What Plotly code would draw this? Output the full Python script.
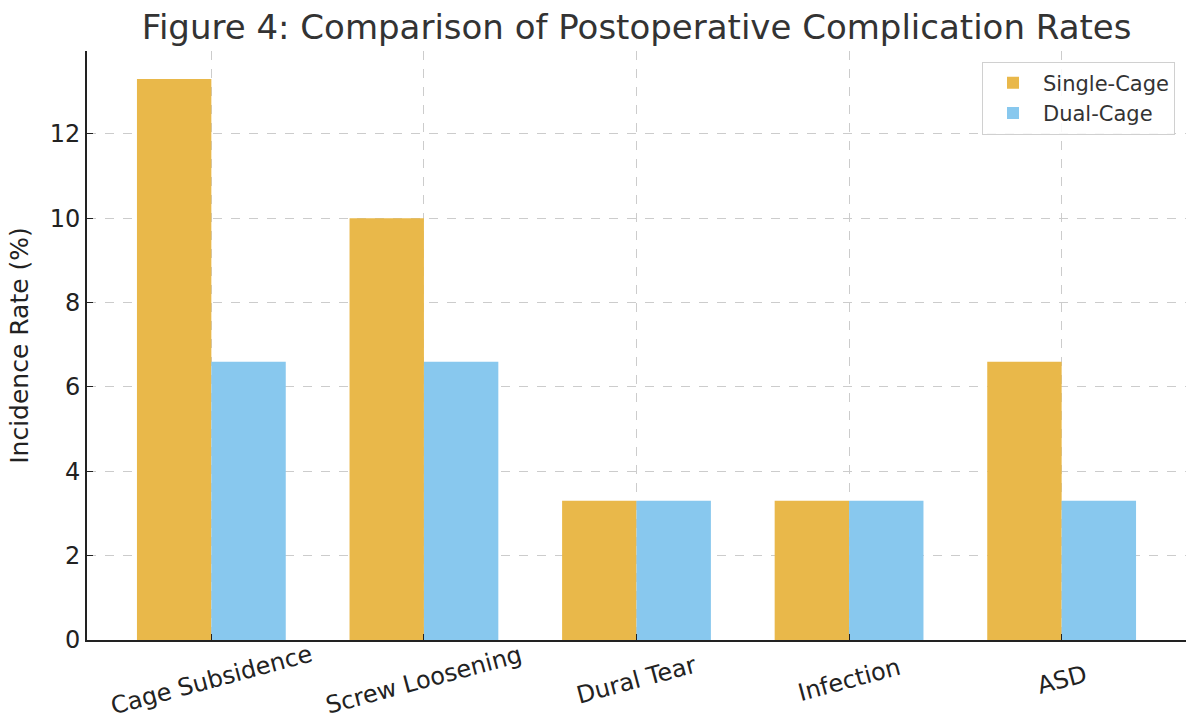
import plotly.graph_objects as go

categories = ["Cage Subsidence", "Screw Loosening", "Dural Tear", "Infection", "ASD"]
single_cage = [13.3, 10.0, 3.3, 3.3, 6.6]
dual_cage = [6.6, 6.6, 3.3, 3.3, 3.3]
y_ticks = [0, 2, 4, 6, 8, 10, 12]

FONT = "DejaVu Sans"
ORANGE = "#E9B84A"
BLUE = "#88C8EE"

fig = go.Figure()
fig.add_trace(go.Bar(x=categories, y=single_cage, name="Single-Cage",
                     marker=dict(color=ORANGE, line=dict(width=0))))
fig.add_trace(go.Bar(x=categories, y=dual_cage, name="Dual-Cage",
                     marker=dict(color=BLUE, line=dict(width=0))))

# rotated category labels centred under each group
for c in categories:
    fig.add_annotation(x=c, y=0, xref="x", yref="paper", text=c,
                       showarrow=False, textangle=-15,
                       xanchor="center", yanchor="middle", yshift=-40,
                       font=dict(family=FONT, size=24, color="#222"))

ymax = max(single_cage + dual_cage) * 1.05
fig.update_layout(
    width=1190, height=722,
    margin=dict(l=87, r=4, t=51, b=82),
    paper_bgcolor="white", plot_bgcolor="white",
    barmode="group", bargap=0.3, bargroupgap=0,
    font=dict(family=FONT, color="#222"),
    title=dict(text="Figure 4: Comparison of Postoperative Complication Rates",
               x=0.535, xanchor="center", y=0.962, yanchor="middle",
               font=dict(family=FONT, size=34, color="#333")),
    legend=dict(x=0.99, xanchor="right", y=0.982, yanchor="top",
                bgcolor="rgba(255,255,255,0.85)", bordercolor="#d0d0d0",
                borderwidth=1, font=dict(family=FONT, size=21, color="#333"),
                itemwidth=50),
    xaxis=dict(range=[-0.585, 4.585], showticklabels=False,
               ticks="inside", ticklen=6, tickcolor="#222",
               showline=True, linecolor="#222", linewidth=1.8,
               showgrid=True, gridcolor="#cccccc", griddash="dash", gridwidth=1,
               zeroline=False),
    yaxis=dict(range=[0, ymax], tickvals=y_ticks,
               ticks="inside", ticklen=6, tickcolor="#222",
               tickfont=dict(family=FONT, size=24, color="#222"),
               showline=True, linecolor="#222", linewidth=1.8,
               showgrid=True, gridcolor="#cccccc", griddash="dash", gridwidth=1,
               zeroline=False,
               title=dict(text="Incidence Rate (%)", standoff=14,
                          font=dict(family=FONT, size=25, color="#222"))),
)

fig.write_html("out.html")
